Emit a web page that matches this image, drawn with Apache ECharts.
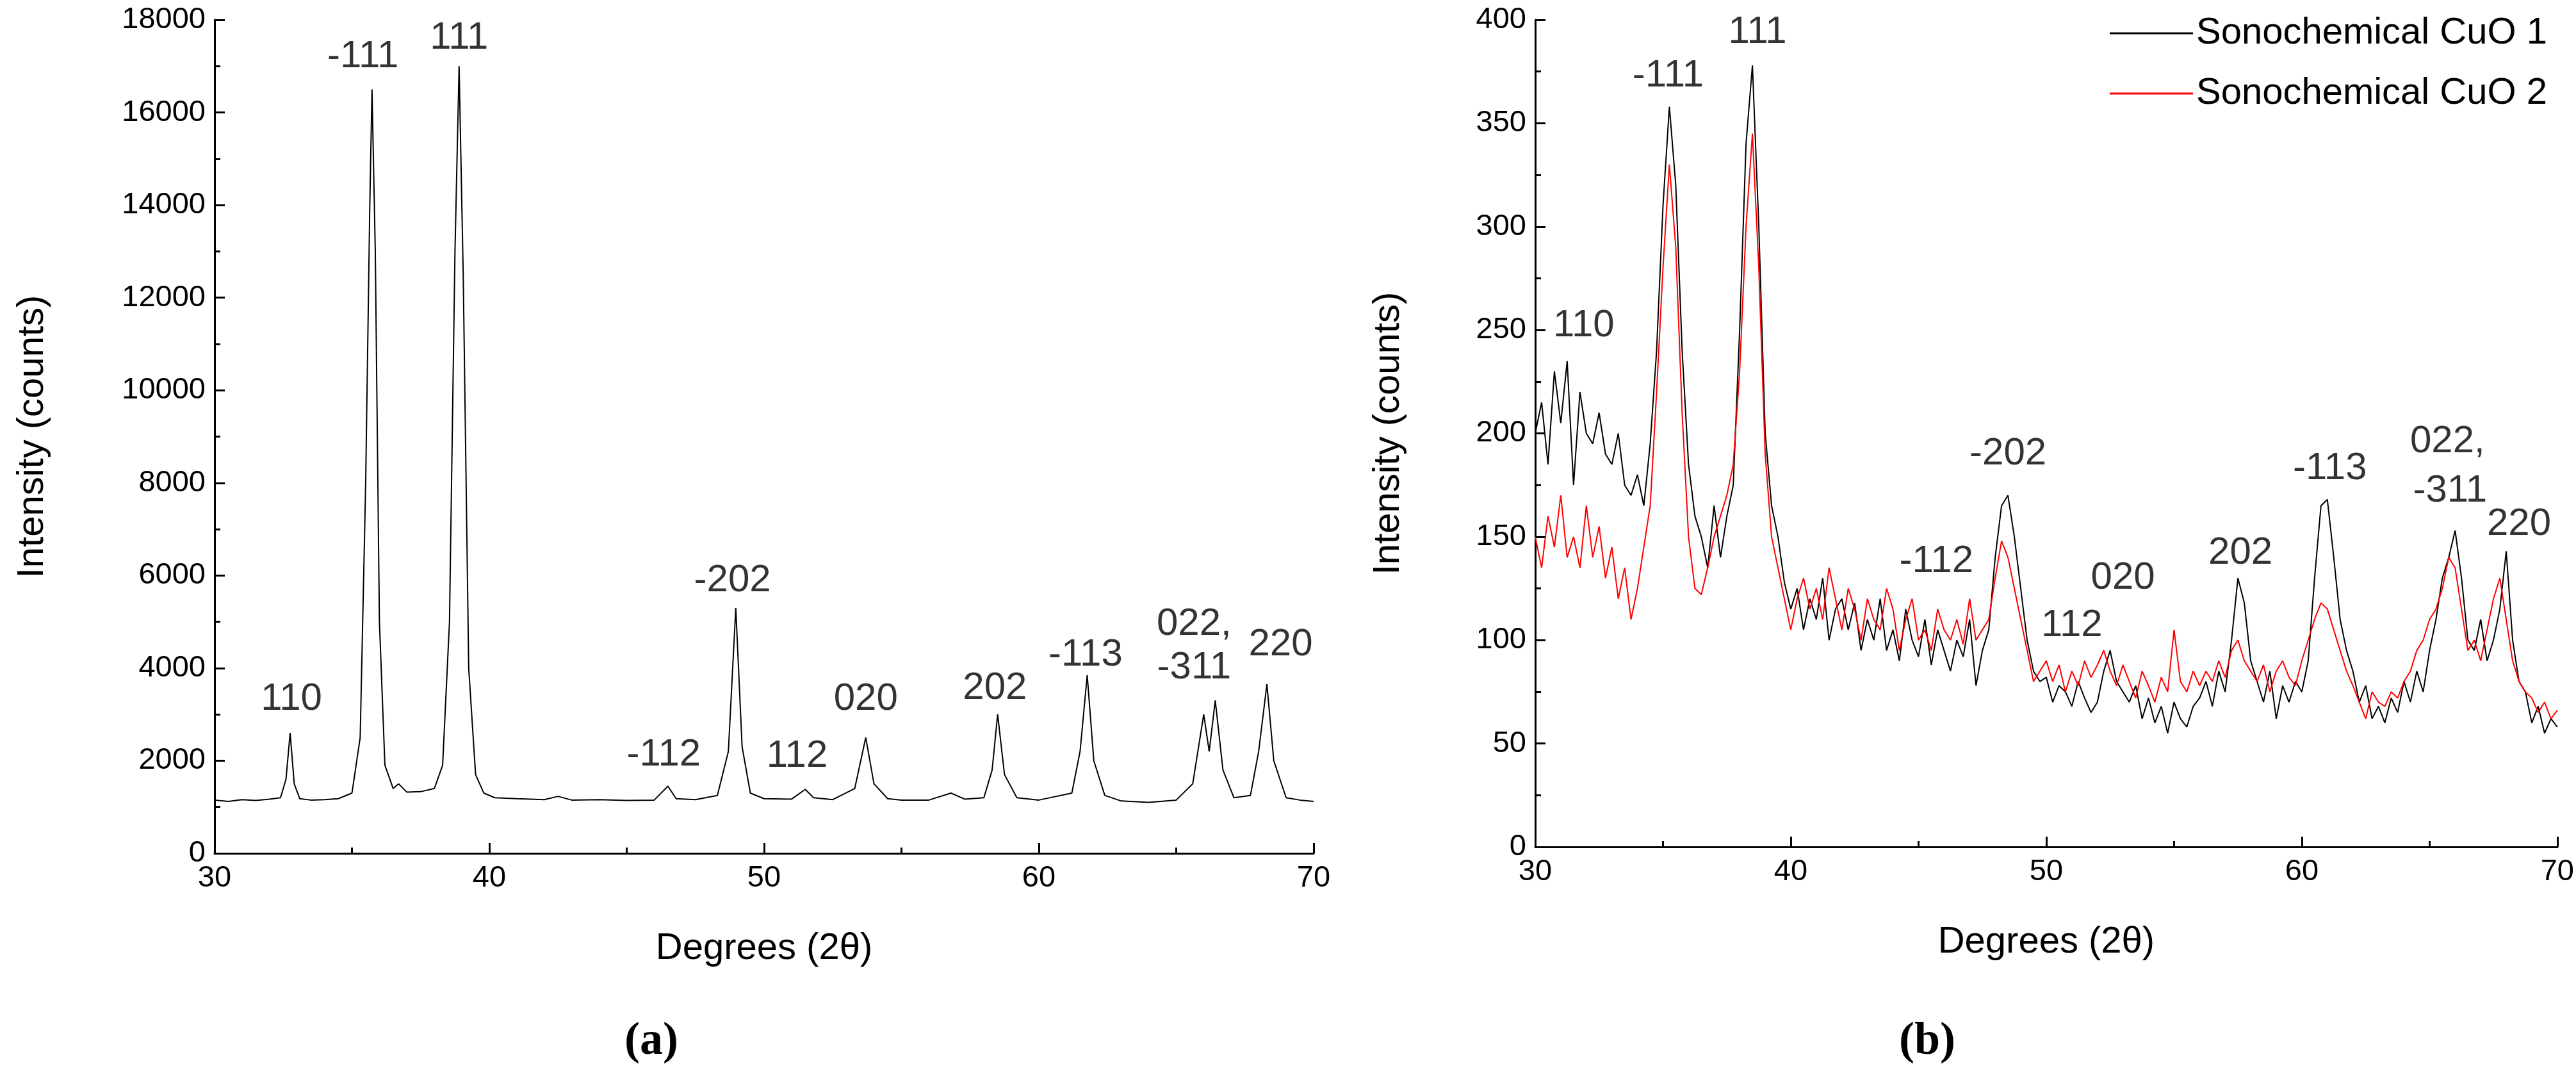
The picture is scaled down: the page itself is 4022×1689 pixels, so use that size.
<!DOCTYPE html>
<html>
<head>
<meta charset="utf-8">
<script src="https://cdn.jsdelivr.net/npm/echarts@6/dist/echarts.min.js"></script>
<style>
  html, body { margin: 0; padding: 0; background: #fff; }
  #chart { width: 4022px; height: 1689px; }
</style>
</head>
<body>
<div id="chart"></div>
<script>
// (a) pattern: [degrees, counts]
var patternA = [
  [30,1150],[30.5,1120],[31,1160],[31.5,1140],[32,1170],[32.4,1200],[32.6,1600],[32.75,2600],[32.9,1500],[33.1,1180],
  [33.5,1150],[34,1160],[34.5,1180],[35,1300],[35.3,2500],[35.5,8000],[35.65,14000],[35.73,16500],[35.85,13000],[36,5000],
  [36.2,1900],[36.5,1400],[36.7,1500],[37,1320],[37.5,1330],[38,1400],[38.3,1900],[38.55,5000],[38.75,13000],[38.9,17000],
  [39.05,12500],[39.25,4000],[39.5,1700],[39.8,1300],[40.2,1200],[41,1180],[42,1160],[42.5,1230],[43,1150],[44,1160],
  [45,1140],[46,1150],[46.5,1450],[46.8,1180],[47.5,1160],[48.3,1250],[48.7,2200],[48.97,5300],[49.2,2300],[49.5,1300],
  [50,1180],[51,1170],[51.5,1380],[51.8,1200],[52.5,1160],[53.3,1400],[53.7,2500],[54,1500],[54.5,1180],[55,1150],
  [56,1150],[56.8,1300],[57.3,1170],[58,1200],[58.3,1800],[58.5,3000],[58.75,1700],[59.2,1200],[60,1150],[61.2,1300],
  [61.5,2200],[61.76,3850],[62,2000],[62.4,1250],[63,1130],[64,1100],[65,1150],[65.6,1500],[66,3000],[66.2,2200],
  [66.42,3300],[66.7,1800],[67.1,1200],[67.7,1250],[68,2200],[68.3,3650],[68.55,2000],[69,1200],[69.5,1150],[70,1120]
];

// (b) patterns, sampled every 0.25 degrees from 30 to 70
var anglesB = [
  30,30.25,30.5,30.75,31,31.25,31.5,31.75,32,32.25,32.5,32.75,33,33.25,33.5,33.75,
  34,34.25,34.5,34.75,35,35.25,35.5,35.75,36,36.25,36.5,36.75,37,37.25,37.5,37.75,
  38,38.25,38.5,38.75,39,39.25,39.5,39.75,40,40.25,40.5,40.75,41,41.25,41.5,41.75,
  42,42.25,42.5,42.75,43,43.25,43.5,43.75,44,44.25,44.5,44.75,45,45.25,45.5,45.75,
  46,46.25,46.5,46.75,47,47.25,47.5,47.75,48,48.25,48.5,48.75,49,49.25,49.5,49.75,
  50,50.25,50.5,50.75,51,51.25,51.5,51.75,52,52.25,52.5,52.75,53,53.25,53.5,53.75,
  54,54.25,54.5,54.75,55,55.25,55.5,55.75,56,56.25,56.5,56.75,57,57.25,57.5,57.75,
  58,58.25,58.5,58.75,59,59.25,59.5,59.75,60,60.25,60.5,60.75,61,61.25,61.5,61.75,
  62,62.25,62.5,62.75,63,63.25,63.5,63.75,64,64.25,64.5,64.75,65,65.25,65.5,65.75,
  66,66.25,66.5,66.75,67,67.25,67.5,67.75,68,68.25,68.5,68.75,69,69.25,69.5,69.75,70
];
var cuo1 = [
  200,215,185,230,205,235,175,220,200,195,210,190,185,200,175,170,
  180,165,195,240,310,358,320,240,185,160,150,135,165,140,160,175,
  250,340,378,300,200,165,150,128,115,125,105,120,110,130,100,115,
  120,105,118,95,110,100,120,95,105,90,115,100,92,110,88,105,
  95,85,100,92,110,78,95,105,140,165,170,150,125,100,85,80,
  82,70,78,75,68,80,72,65,70,85,95,80,75,70,78,62,
  72,60,68,55,70,62,58,68,72,80,68,85,75,100,130,118,
  90,80,70,85,62,78,70,80,75,90,130,165,168,140,110,95,
  85,70,78,62,68,60,72,65,80,70,85,75,95,110,130,140,
  153,130,100,95,110,90,100,115,143,100,80,75,60,68,55,62,58
];
var cuo2 = [
  150,135,160,145,170,140,150,135,165,140,155,130,145,120,135,110,
  125,145,165,220,280,330,290,210,150,125,122,135,150,160,170,185,
  230,300,345,280,190,150,135,120,105,120,130,115,125,110,135,120,
  105,125,115,100,120,110,105,125,115,95,110,120,100,105,95,115,
  105,100,110,98,120,100,105,110,130,148,140,125,110,95,80,85,
  90,80,88,75,85,78,90,82,88,95,85,78,88,80,72,85,
  78,70,82,75,105,80,75,85,78,85,80,90,82,95,100,90,
  85,80,88,75,85,90,82,78,90,100,110,118,115,105,95,85,
  78,70,62,75,70,68,75,72,80,85,95,100,110,115,125,140,
  135,115,95,100,90,105,120,130,110,90,80,75,72,65,70,62,66
];

// peak labels: [degrees, counts, text]
var labelsA = [
  [32.8,3330,'110'],[35.4,17200,'-111'],[38.9,17600,'111'],[46.35,2130,'-112'],[48.85,5890,'-202'],
  [51.2,2100,'112'],[53.7,3330,'020'],[58.4,3560,'202'],[61.7,4280,'-113'],[65.65,4950,'022,'],
  [65.65,4000,'-311'],[68.8,4500,'220']
];
var labelsB = [
  [31.9,252,'110'],[35.2,373,'-111'],[38.7,394,'111'],[45.7,138,'-112'],[48.5,190,'-202'],
  [51.0,107,'112'],[53.0,130,'020'],[57.6,142,'202'],[61.1,183,'-113'],[65.7,196,'022,'],
  [65.8,172,'-311'],[68.5,156,'220']
];
var seriesNames = ['Sonochemical CuO 1', 'Sonochemical CuO 2'];

(function () {
    var font = 'Liberation Sans';

    function pairs(xs, ys) {
        return xs.map(function (x, i) { return [x, ys[i]]; });
    }

    function xAxis(idx) {
        return {
            gridIndex: idx, type: 'value', min: 30, max: 70, interval: 10,
            name: 'Degrees (2θ)', nameLocation: 'middle', nameGap: 120,
            nameTextStyle: { fontFamily: font, fontSize: 58, color: '#000' },
            axisLine: { lineStyle: { color: '#000', width: 3 } },
            axisTick: { inside: true, length: 16, lineStyle: { color: '#000', width: 3 } },
            minorTick: { show: true, splitNumber: 2, length: 9, lineStyle: { color: '#000', width: 3 } },
            axisLabel: { fontFamily: font, fontSize: 47, color: '#000', margin: 16 },
            splitLine: { show: false }
        };
    }

    function yAxis(idx, max, interval, gap) {
        return {
            gridIndex: idx, type: 'value', min: 0, max: max, interval: interval,
            name: 'Intensity (counts)', nameLocation: 'middle', nameGap: gap,
            nameTextStyle: { fontFamily: font, fontSize: 58, color: '#000' },
            axisLine: { show: true, lineStyle: { color: '#000', width: 3 } },
            axisTick: { show: true, inside: true, length: 16, lineStyle: { color: '#000', width: 3 } },
            minorTick: { show: true, splitNumber: 2, length: 9, lineStyle: { color: '#000', width: 3 } },
            axisLabel: {
                fontFamily: font, fontSize: 47, color: '#000', margin: 14,
                formatter: function (v) { return String(v); }
            },
            splitLine: { show: false }
        };
    }

    function labelSeries(idx, data) {
        return {
            type: 'scatter', xAxisIndex: idx, yAxisIndex: idx, symbolSize: 0, silent: true,
            data: data.map(function (d) { return { value: [d[0], d[1]], name: d[2] }; }),
            label: {
                show: true, position: 'inside', formatter: '{b}',
                fontFamily: font, fontSize: 60, color: '#000'
            },
            z: 5
        };
    }

    var chart = echarts.init(document.getElementById('chart'));
    chart.setOption({
        animation: false,
        backgroundColor: '#fff',
        grid: [
            { left: 335, right: 1971, top: 31, bottom: 357 },
            { left: 2397, right: 15, top: 31, bottom: 367 }
        ],
        xAxis: [xAxis(0), xAxis(1)],
        yAxis: [yAxis(0, 18000, 2000, 255), yAxis(1, 400, 50, 200)],
        legend: {
            data: seriesNames, orient: 'vertical', right: 40, top: 18, itemGap: 36,
            itemWidth: 130, itemHeight: 3, icon: 'rect',
            textStyle: { fontFamily: font, fontSize: 58, color: '#000' }
        },
        graphic: [
            { type: 'text', left: 975, top: 1590, style: { text: '(a)', font: 'bold 72px "Liberation Serif"', fill: '#000' } },
            { type: 'text', left: 2965, top: 1590, style: { text: '(b)', font: 'bold 72px "Liberation Serif"', fill: '#000' } }
        ],
        series: [
            {
                type: 'line', xAxisIndex: 0, yAxisIndex: 0, data: patternA, showSymbol: false,
                lineStyle: { color: '#000', width: 2 }
            },
            {
                name: seriesNames[0], type: 'line', xAxisIndex: 1, yAxisIndex: 1, data: pairs(anglesB, cuo1),
                showSymbol: false, color: '#000', lineStyle: { color: '#000', width: 2 }
            },
            {
                name: seriesNames[1], type: 'line', xAxisIndex: 1, yAxisIndex: 1, data: pairs(anglesB, cuo2),
                showSymbol: false, color: '#ff0000', lineStyle: { color: '#ff0000', width: 2 }
            },
            labelSeries(0, labelsA),
            labelSeries(1, labelsB)
        ]
    });
})();
</script>
</body>
</html>
